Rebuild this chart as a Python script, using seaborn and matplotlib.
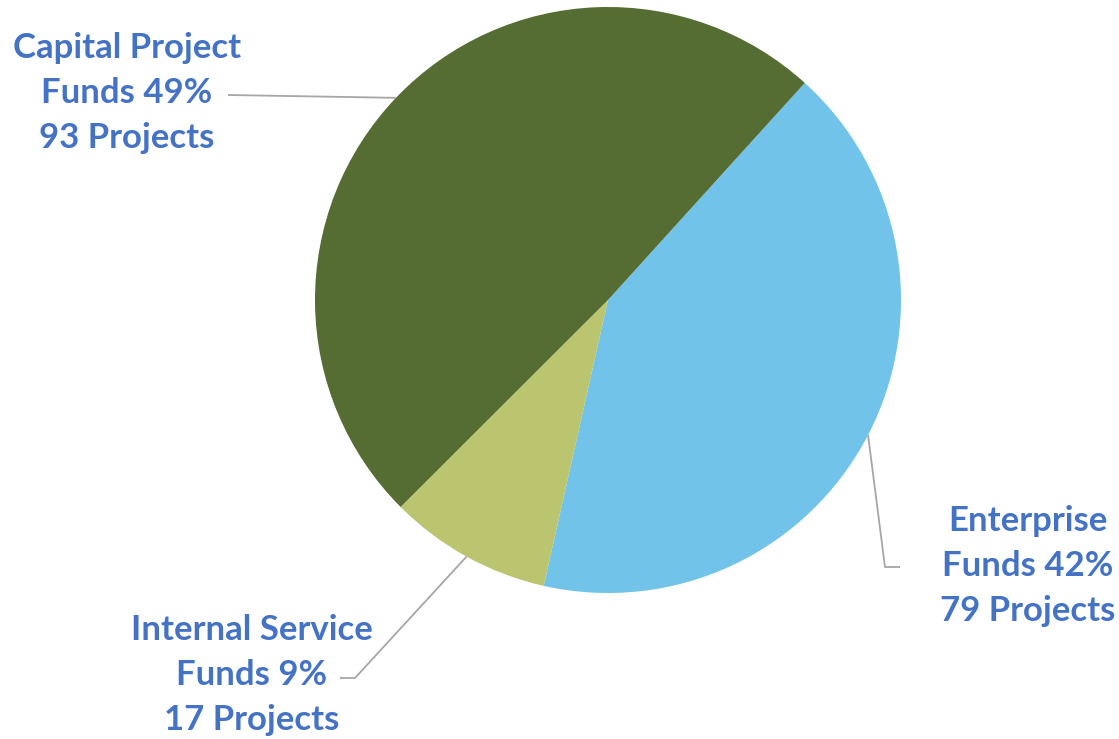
import numpy as np
import matplotlib
matplotlib.use("Agg")
import matplotlib.pyplot as plt
import seaborn as sns

categories = ["Enterprise Funds", "Internal Service Funds", "Capital Project Funds"]
projects = [79, 17, 93]
percents = [42, 9, 49]
label_lines = [["Enterprise", "Funds 42%", "79 Projects"],
               ["Internal Service", "Funds 9%", "17 Projects"],
               ["Capital Project", "Funds 49%", "93 Projects"]]

colors = ["#71C3EA", "#BBC46F", "#556D32"]
text_color = "#4472C4"

sns.set_theme(style="white")
plt.rcParams['font.family'] = ['Lato', 'DejaVu Sans']

W, H = 1119, 739
fig = plt.figure(figsize=(W / 100, H / 100), dpi=100)
ax = fig.add_axes([0, 0, 1, 1])

cx, cy, R = 608, H - 300, 293
wedges, _ = ax.pie(projects, colors=colors, startangle=47.8, counterclock=False,
                   center=(cx, cy), radius=R, frame=True,
                   wedgeprops=dict(linewidth=0))
ax.set_xlim(0, W)
ax.set_ylim(0, H)
ax.set_aspect("equal")
ax.axis("off")

# label placement (pixels, top-origin): text center, elbow, line end
layout = [
    dict(text=(1028, 566), elbow=(885, 567), end=(900, 567)),
    dict(text=(252, 675), elbow=(355, 678), end=(340, 678)),
    dict(text=(127, 93), elbow=(228, 95), end=(228, 95)),
]

for w, lines, lay in zip(wedges, label_lines, layout):
    ang = np.deg2rad((w.theta1 + w.theta2) / 2)
    sx, sy = cx + R * np.cos(ang), cy + R * np.sin(ang)
    ex, ey = lay["elbow"][0], H - lay["elbow"][1]
    tx, ty = lay["end"][0], H - lay["end"][1]
    ax.plot([sx, ex, tx], [sy, ey, ty], color="#A6A6A6", lw=1.3, solid_capstyle="butt")
    x0, y0 = lay["text"]
    ax.text(x0, H - y0, "\n".join(lines), ha="center", va="center",
            fontsize=25, fontweight="bold", color=text_color, linespacing=1.5)

fig.savefig("out.png", dpi=100)
